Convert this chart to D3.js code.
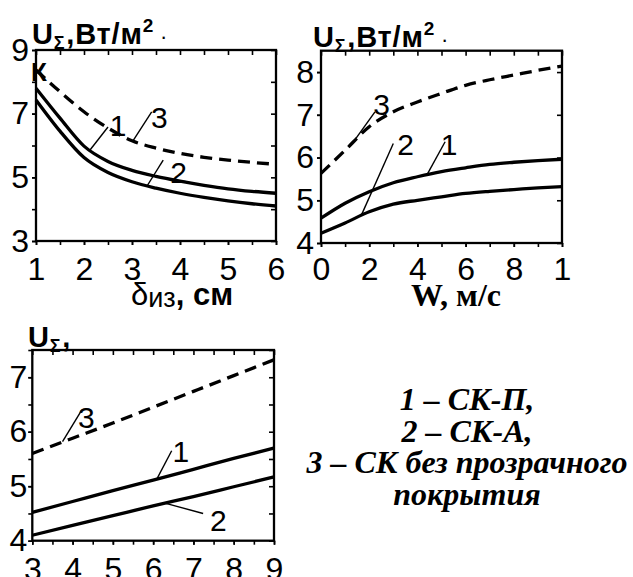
<!DOCTYPE html>
<html><head><meta charset="utf-8">
<script src="https://cdn.jsdelivr.net/npm/d3@7"></script>
<style>body{margin:0;background:#fff} svg{display:block}</style>
</head><body>
<svg id="c" width="633" height="577"></svg>
<script>
// ---------- DATA ----------
// Panel 1: U vs insulation thickness δиз, cm
const p1X = [1, 1.5, 2, 2.5, 3, 3.5, 4, 4.5, 5, 5.5, 6];
const p1Curve1 = [7.80, 6.86, 5.98, 5.50, 5.22, 5.03, 4.88, 4.75, 4.64, 4.56, 4.50];
const p1Curve2 = [7.43, 6.45, 5.62, 5.15, 4.86, 4.66, 4.50, 4.37, 4.26, 4.17, 4.10];
const p1Curve3 = [8.37, 7.69, 7.06, 6.55, 6.15, 5.92, 5.75, 5.63, 5.54, 5.47, 5.41];
const p1XTicks = [1, 2, 3, 4, 5, 6];
const p1XTickLabels = ["1", "2", "3", "4", "5", "6"];
const p1YTicks = [3, 5, 7, 9];
const p1YTickLabels = ["3", "5", "7", "9"];

// Panel 2: U vs wind speed W, m/s
const p2X = [0, 1, 2, 3, 4, 5, 6, 7, 8, 9, 10];
const p2Curve1 = [4.58, 4.93, 5.20, 5.41, 5.55, 5.67, 5.76, 5.84, 5.89, 5.93, 5.96];
const p2Curve2 = [4.23, 4.47, 4.73, 4.91, 5.00, 5.08, 5.16, 5.21, 5.25, 5.29, 5.32];
const p2Curve3 = [5.63, 6.17, 6.72, 7.07, 7.30, 7.50, 7.69, 7.82, 7.93, 8.04, 8.14];
const p2XTicks = [0, 2, 4, 6, 8, 10];
const p2XTickLabels = ["0", "2", "4", "6", "8", "1"];
const p2YTicks = [4, 5, 6, 7, 8];
const p2YTickLabels = ["4", "5", "6", "7", "8"];

// Panel 3
const p3X = [3, 4, 5, 6, 7, 8, 9];
const p3Curve1 = [4.52, 4.72, 4.92, 5.11, 5.31, 5.51, 5.70];
const p3Curve2 = [4.10, 4.28, 4.46, 4.64, 4.81, 4.99, 5.17];
const p3Curve3 = [5.60, 5.88, 6.16, 6.45, 6.74, 7.03, 7.32];
const p3XTicks = [3, 4, 5, 6, 7, 8, 9];
const p3XTickLabels = ["3", "4", "5", "6", "7", "8", "9"];
const p3YTicks = [4, 5, 6, 7];
const p3YTickLabels = ["4", "5", "6", "7"];

const curveNames = ["1", "2", "3"];
const legendLines = ["1 – СК-П,", "2 – СК-А,", "3 – СК без прозрачного", "покрытия"];

// ---------- DRAWING ----------
const SANS = "'Liberation Sans', Arial, sans-serif";
const SERIF = "'Liberation Serif', 'Times New Roman', serif";
const svg = d3.select("#c");

function panel(o) {
  const x = d3.scaleLinear().domain(o.xDomain).range([o.left, o.right]);
  const y = d3.scaleLinear().domain(o.yDomain).range([o.bottom, o.top]);
  const g = svg.append("g");
  const line = d3.line().x(d => x(d[0])).y(d => y(d[1])).curve(d3.curveMonotoneX);

  o.series.forEach(s => {
    g.append("path")
      .datum(o.xs.map((v, i) => [v, s.values[i]]))
      .attr("d", line)
      .attr("fill", "none")
      .attr("stroke", "#000")
      .attr("stroke-width", 3.3)
      .attr("stroke-dasharray", s.dashed ? "12,7" : null);
  });

  g.append("rect")
    .attr("x", o.left).attr("y", o.top)
    .attr("width", o.right - o.left).attr("height", o.bottom - o.top)
    .attr("fill", "none").attr("stroke", "#000").attr("stroke-width", 2.3);

  function styleAxis(sel) {
    sel.select(".domain").remove();
    sel.selectAll("line").attr("stroke", "#000").attr("stroke-width", 1.6);
    sel.attr("font-family", SANS).attr("font-size", 32);
    sel.selectAll("text").attr("fill", "#000");
  }

  g.append("g").attr("transform", `translate(0,${o.bottom})`)
    .call(d3.axisBottom(x).tickValues(o.xMinor).tickFormat("").tickSize(4).tickSizeOuter(0))
    .call(styleAxis);
  g.append("g").attr("transform", `translate(0,${o.bottom})`)
    .call(d3.axisBottom(x).tickValues(o.xTicks).tickFormat((d, i) => o.xLabels[i])
      .tickSize(4).tickPadding(o.xPad).tickSizeOuter(0))
    .call(styleAxis);
  g.append("g").attr("transform", `translate(0,${o.top})`)
    .call(d3.axisTop(x).tickValues(o.topTicks).tickFormat("").tickSize(-5).tickSizeOuter(0))
    .call(styleAxis);
  g.append("g").attr("transform", `translate(${o.left},0)`)
    .call(d3.axisLeft(y).tickValues(o.yMinor).tickFormat("").tickSize(4).tickSizeOuter(0))
    .call(styleAxis);
  g.append("g").attr("transform", `translate(${o.left},0)`)
    .call(d3.axisLeft(y).tickValues(o.yTicks).tickFormat((d, i) => o.yLabels[i])
      .tickSize(4).tickPadding(o.yPad).tickSizeOuter(0))
    .call(styleAxis);
  g.append("g").attr("transform", `translate(${o.right},0)`)
    .call(d3.axisRight(y).tickValues(o.rightTicks).tickFormat("").tickSize(-5).tickSizeOuter(0))
    .call(styleAxis);

  o.notes.forEach(n => {
    g.append("line")
      .attr("x1", x(n.from[0])).attr("y1", y(n.from[1]))
      .attr("x2", x(n.to[0])).attr("y2", y(n.to[1]))
      .attr("stroke", "#000").attr("stroke-width", 1.4);
    g.append("text")
      .attr("x", x(n.at[0])).attr("y", y(n.at[1]))
      .attr("dy", "0.36em")
      .attr("text-anchor", "middle")
      .attr("font-family", SANS).attr("font-size", 30)
      .text(n.name);
  });
  return { x, y, g };
}

function range(a, b, s) { const r = []; for (let v = a; v <= b + 1e-9; v += s) r.push(+v.toFixed(4)); return r; }

panel({
  left: 36, right: 276, top: 50, bottom: 241,
  xDomain: [1, 6], yDomain: [3, 9],
  xs: p1X,
  series: [{ values: p1Curve1 }, { values: p1Curve2 }, { values: p1Curve3, dashed: true }],
  xTicks: p1XTicks, xLabels: p1XTickLabels, xMinor: range(1, 6, 0.5), xPad: 12,
  topTicks: range(1, 6, 0.5),
  yTicks: p1YTicks, yLabels: p1YTickLabels, yMinor: range(3, 9, 1), yPad: 3,
  rightTicks: range(3, 9, 1),
  notes: [
    { name: curveNames[0], at: [2.71, 6.63], from: [2.125, 5.86], to: [2.5, 6.58] },
    { name: curveNames[2], at: [3.57, 6.88], from: [3.03, 6.17], to: [3.41, 7.06] },
    { name: curveNames[1], at: [3.97, 5.17], from: [3.31, 4.72], to: [3.65, 5.54] }
  ]
});

panel({
  left: 321, right: 562, top: 50.7, bottom: 243,
  xDomain: [0, 10], yDomain: [4, 8.5],
  xs: p2X,
  series: [{ values: p2Curve1 }, { values: p2Curve2 }, { values: p2Curve3, dashed: true }],
  xTicks: p2XTicks, xLabels: p2XTickLabels, xMinor: range(0, 10, 1), xPad: 10,
  topTicks: range(0, 10, 1),
  yTicks: p2YTicks, yLabels: p2YTickLabels, yMinor: range(4, 8, 1), yPad: 3,
  rightTicks: range(4, 8, 1),
  notes: [
    { name: curveNames[2], at: [2.51, 7.25], from: [1.45, 6.45], to: [2.24, 7.07] },
    { name: curveNames[1], at: [3.51, 6.31], from: [1.69, 4.67], to: [3.0, 6.33] },
    { name: curveNames[0], at: [5.31, 6.32], from: [4.39, 5.59], to: [5.15, 6.37] }
  ]
});

panel({
  left: 32.3, right: 274, top: 350, bottom: 540.7,
  xDomain: [3, 9], yDomain: [4, 7.5],
  xs: p3X,
  series: [{ values: p3Curve1 }, { values: p3Curve2 }, { values: p3Curve3, dashed: true }],
  xTicks: p3XTicks, xLabels: p3XTickLabels, xMinor: range(3, 9, 0.5), xPad: 13,
  topTicks: range(3, 9, 0.5),
  yTicks: p3YTicks, yLabels: p3YTickLabels, yMinor: range(4, 7.5, 0.5), yPad: 1,
  rightTicks: range(4, 7.5, 0.5),
  notes: [
    { name: curveNames[2], at: [4.34, 6.26], from: [3.75, 5.82], to: [4.23, 6.40] },
    { name: curveNames[0], at: [6.69, 5.65], from: [6.09, 5.13], to: [6.46, 5.65] },
    { name: curveNames[1], at: [7.62, 4.38], from: [6.29, 4.69], to: [7.24, 4.50] }
  ]
});

// ---------- axis titles ----------
function uTitle(x, y, full) {
  const t = svg.append("text").attr("x", x).attr("y", y)
    .attr("font-family", SANS).attr("font-weight", "bold").attr("font-size", 29)
    .attr("letter-spacing", 0.8);
  t.append("tspan").text("U");
  t.append("tspan").attr("font-size", 18).attr("dy", 5).text("Σ");
  if (full) {
    t.append("tspan").attr("dy", -5).attr("dx", 1).text(",Вт/м");
    t.append("tspan").attr("font-size", 19).attr("dy", -12).text("2");
    t.append("tspan").attr("font-size", 22).attr("dy", 12).attr("dx", 6).attr("font-weight", "normal").text("·");
  } else {
    t.append("tspan").attr("dy", -5).attr("dx", 1).text(",");
  }
}
uTitle(32, 44, true);
uTitle(313, 47, true);
uTitle(28, 347, false);

svg.append("text").attr("x", 31).attr("y", 81)
  .attr("font-family", SANS).attr("font-weight", "bold").attr("font-size", 26).text("К");

// δиз, см
const tx1 = svg.append("text").attr("x", 131).attr("y", 305)
  .attr("font-family", SANS).attr("font-size", 31);
tx1.append("tspan").text("δ");
tx1.append("tspan").attr("font-size", 27).attr("dy", 2).text("из");
tx1.append("tspan").attr("dy", -2).attr("font-weight", "bold").text(", см");

// W, м/с
svg.append("text").attr("x", 456).attr("y", 306).attr("text-anchor", "middle")
  .attr("font-family", SERIF).attr("font-weight", "bold").attr("font-size", 32)
  .text("W, м/с");

// legend
svg.append("g").selectAll("text").data(legendLines).join("text")
  .attr("x", 467).attr("y", (d, i) => 410 + i * 31.7)
  .attr("text-anchor", "middle")
  .attr("font-family", SERIF).attr("font-weight", "bold").attr("font-style", "italic")
  .attr("font-size", 32)
  .text(d => d);
</script>
</body></html>
